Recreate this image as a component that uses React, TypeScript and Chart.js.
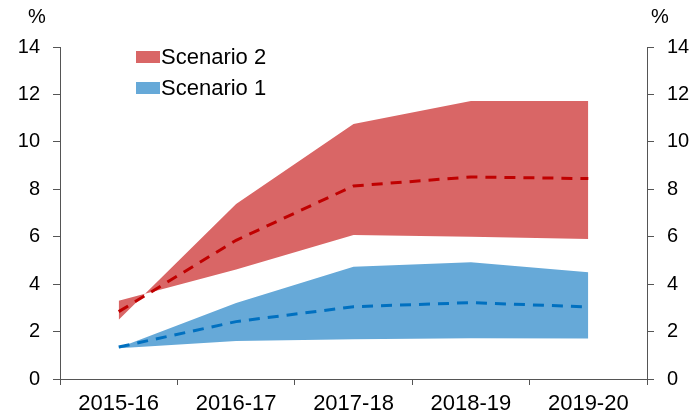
import React, { useEffect, useRef } from "react";
import { Chart, registerables } from "chart.js";

Chart.register(...registerables);

const categories = ["2015-16", "2016-17", "2017-18", "2018-19", "2019-20"];
const scenario2EdgeA = [2.5, 7.38, 10.75, 11.72, 11.72];
const scenario2EdgeB = [3.3, 4.62, 6.07, 6.0, 5.9];
const scenario2Central = [2.84, 5.85, 8.14, 8.52, 8.45];
const scenario1Upper = [1.32, 3.2, 4.73, 4.92, 4.5];
const scenario1Lower = [1.3, 1.6, 1.68, 1.72, 1.71];
const scenario1Central = [1.35, 2.42, 3.05, 3.22, 3.04];
const yTicks = [0, 2, 4, 6, 8, 10, 12, 14];
const legendLabels = ["Scenario 2", "Scenario 1"];

const RED_FILL = "#D96666";
const BLUE_FILL = "#66A9D8";
const RED_LINE = "#C00000";
const BLUE_LINE = "#0070C0";
const AXIS = "#555555";
const FONT = "'Liberation Sans', Arial, sans-serif";

const overlayPlugin = {
  id: "overlay",
  afterDraw(chart: any) {
    const { ctx, chartArea } = chart;
    ctx.save();
    ctx.fillStyle = "#000";
    ctx.font = `20px ${FONT}`;
    ctx.textBaseline = "middle";
    ctx.textAlign = "center";
    ctx.fillText("%", chartArea.left - 23, chartArea.top - 30);
    ctx.fillText("%", chartArea.right + 13, chartArea.top - 30);
    const colors = [RED_FILL, BLUE_FILL];
    legendLabels.forEach((lab, i) => {
      const cy = chartArea.top + 10 + i * 31;
      ctx.fillStyle = colors[i];
      ctx.fillRect(chartArea.left + 76, cy - 6, 24, 12);
      ctx.fillStyle = "#000";
      ctx.textAlign = "left";
      ctx.font = `22px ${FONT}`;
      ctx.fillText(lab, chartArea.left + 101, cy + 1);
    });
    ctx.restore();
  },
};

export default function App() {
  const ref = useRef<HTMLCanvasElement>(null);
  useEffect(() => {
    document.body.style.margin = "0";
    const yCommon = (position: "left" | "right") => ({
      position,
      min: 0,
      max: 14,
      afterBuildTicks: (scale: any) => {
        scale.ticks = yTicks.map((v) => ({ value: v }));
      },
      afterFit: (scale: any) => {
        scale.width = position === "left" ? 60 : 46;
      },
      grid: {
        drawOnChartArea: false,
        drawTicks: true,
        tickLength: 7,
        color: AXIS,
      },
      border: { display: true, color: AXIS, width: 1 },
      ticks: {
        padding: 13,
        color: "#000",
        font: { family: FONT, size: 20 },
      },
    });
    const band = (label: string, data: number[], fill: any, bg?: string) => ({
      label,
      data,
      borderWidth: 0,
      pointRadius: 0,
      backgroundColor: bg || "rgba(0,0,0,0)",
      borderColor: "rgba(0,0,0,0)",
      fill,
      tension: 0,
      order: 2,
    });
    const central = (label: string, data: number[], color: string) => ({
      label,
      data,
      borderWidth: 3,
      borderDash: [11, 8],
      borderColor: color,
      pointRadius: 0,
      fill: false,
      tension: 0,
      order: 1,
    });
    const chart = new Chart(ref.current!, {
      type: "line",
      data: {
        labels: categories,
        datasets: [
          band("Scenario 2 A", scenario2EdgeA, "+1", RED_FILL),
          band("Scenario 2 B", scenario2EdgeB, false),
          band("Scenario 1 upper", scenario1Upper, "+1", BLUE_FILL),
          band("Scenario 1 lower", scenario1Lower, false),
          central("Scenario 2 central", scenario2Central, RED_LINE),
          central("Scenario 1 central", scenario1Central, BLUE_LINE),
        ] as any,
      },
      options: {
        animation: false,
        responsive: false,
        devicePixelRatio: 1,
        layout: { padding: { top: 47, left: 0, right: 0, bottom: 0 } },
        plugins: {
          legend: { display: false },
          tooltip: { enabled: false },
          filler: { drawTime: "beforeDatasetsDraw" },
        } as any,
        scales: {
          x: {
            type: "category",
            offset: true,
            afterFit: (scale: any) => {
              scale.height = 37;
            },
            grid: {
              offset: true,
              drawOnChartArea: false,
              drawTicks: true,
              tickLength: 6,
              color: AXIS,
            },
            border: { display: true, color: AXIS, width: 1 },
            ticks: {
              padding: 6,
              color: "#000",
              maxRotation: 0,
              font: { family: FONT, size: 22 },
            },
          },
          y: yCommon("left") as any,
          y2: yCommon("right") as any,
        },
      },
      plugins: [overlayPlugin],
    });
    return () => chart.destroy();
  }, []);
  return <canvas ref={ref} width={693} height={416} />;
}
